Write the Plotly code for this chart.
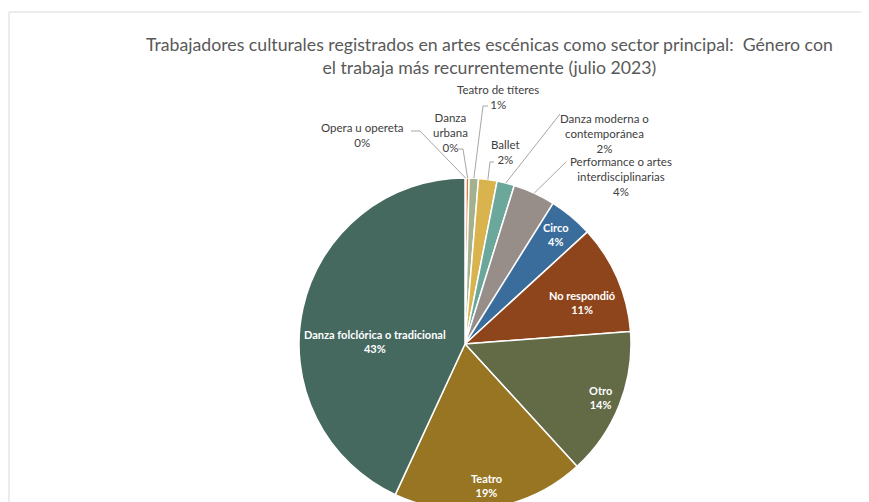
import math
import plotly.graph_objects as go

# ==============================================================================
# DATA
# ==============================================================================
generos = [
    "Opera u opereta", "Danza urbana", "Teatro de títeres", "Ballet",
    "Danza moderna o contemporánea", "Performance o artes interdisciplinarias",
    "Circo", "No respondió", "Otro", "Teatro", "Danza folclórica o tradicional",
]
porcentajes = [0.1, 0.3, 0.9, 1.8, 1.7, 4.1, 4.3, 10.6, 14.4, 18.7, 43.1]
colores = ["#C0504D", "#E0773A", "#A3B18E", "#D8B34E", "#6BA89B", "#978D89",
           "#3A6C9C", "#8F451B", "#626A46", "#977523", "#46695F"]

# label text as shown in the chart
etiquetas = {
    "Opera u opereta": "Opera u opereta",
    "Danza urbana": "Danza<br>urbana",
    "Teatro de títeres": "Teatro de títeres",
    "Ballet": "Ballet",
    "Danza moderna o contemporánea": "Danza moderna o<br>contemporánea",
    "Performance o artes interdisciplinarias": "Performance o artes<br>interdisciplinarias",
}

# ==============================================================================
# LAYOUT (screen pixels; the page body adds an 8px margin)
# ==============================================================================
W, H = 869, 502
OFF = 8
cx, cy, r = 465, 344, 166

# outside labels: text centre and leader elbow points
pos_fuera = {
    "Opera u opereta": ((362, 135), [(411, 131), (420, 131)]),
    "Danza urbana": ((450, 132), [(458, 149), (463, 149)]),
    "Teatro de títeres": ((498, 97), [(488, 106), (483, 106)]),
    "Ballet": ((505, 152), [(494, 162), (490, 162)]),
    "Danza moderna o contemporánea": ((604, 133), [(560, 114)]),
    "Performance o artes interdisciplinarias": ((621, 177), [(566, 162)]),
}
# inside labels: fraction of radius, angle shift (degrees)
pos_dentro = {
    "Circo": (0.86, 0), "No respondió": (0.75, 4), "Otro": (0.88, 0),
    "Teatro": (0.86, 0), "Danza folclórica o tradicional": (0.54, -11),
}

total = sum(porcentajes)


def px(x, y):
    return (x - OFF) / W, 1 - (y - OFF) / H


fig = go.Figure()

d0 = px(cx - r, cy + r)
d1 = px(cx + r, cy - r)
fig.add_trace(go.Pie(
    labels=generos, values=porcentajes,
    sort=False, direction="clockwise", rotation=0,
    marker=dict(colors=colores, line=dict(color="white", width=1.5)),
    textinfo="none",
    domain=dict(x=[d0[0], d1[0]], y=[d0[1], d1[1]]),
    hoverinfo="label+percent", showlegend=False,
))

acum = 0
for g, v in zip(generos, porcentajes):
    ang = (acum + v / 2) / total * 2 * math.pi
    acum += v
    pct = round(v / total * 100)
    if g in pos_dentro:
        f, da = pos_dentro[g]
        a = ang + math.radians(da)
        lx, ly = px(cx + f * r * math.sin(a), cy - f * r * math.cos(a))
        fig.add_annotation(
            x=lx, y=ly, xref="paper", yref="paper",
            text=f"<b>{g}<br>{pct}%</b>", showarrow=False,
            font=dict(family="Lato", size=11, color="white"),
            xanchor="center", yanchor="middle",
        )
        continue
    (tx, ty), codo = pos_fuera[g]
    sx = cx + r * math.sin(ang)
    sy = cy - r * math.cos(ang)
    lx, ly = px(tx, ty)
    fig.add_annotation(
        x=lx, y=ly, xref="paper", yref="paper",
        text=f"{etiquetas[g]}<br>{pct}%", showarrow=False,
        font=dict(family="Lato", size=11.5, color="#404040"),
        xanchor="center", yanchor="middle",
    )
    pts = codo + [(sx, sy)]
    path = "M " + " L ".join(f"{px(a, b)[0]},{px(a, b)[1]}" for a, b in pts)
    fig.add_shape(type="path", path=path, xref="paper", yref="paper",
                  line=dict(color="#A6A6A6", width=1))

# chart frame
f0 = px(9, 12)
fig.add_shape(type="rect", xref="paper", yref="paper",
              x0=f0[0], x1=1.05, y0=-0.05, y1=f0[1],
              line=dict(color="#D9D9D9", width=1), layer="below")

tx, ty = px(489, 56)
fig.add_annotation(
    x=tx, y=ty, xref="paper", yref="paper",
    text="Trabajadores culturales registrados en artes escénicas como sector principal:  Género con<br>el trabaja más recurrentemente (julio 2023)",
    showarrow=False, font=dict(family="Lato", size=17.7, color="#595959"),
    xanchor="center", yanchor="middle",
)

fig.update_layout(
    width=W, height=H,
    margin=dict(l=0, r=0, t=0, b=0),
    paper_bgcolor="white", plot_bgcolor="white",
)

fig.write_html("out.html",
               post_script="document.documentElement.style.overflow='hidden';"
                           "document.body.style.overflow='hidden';")
